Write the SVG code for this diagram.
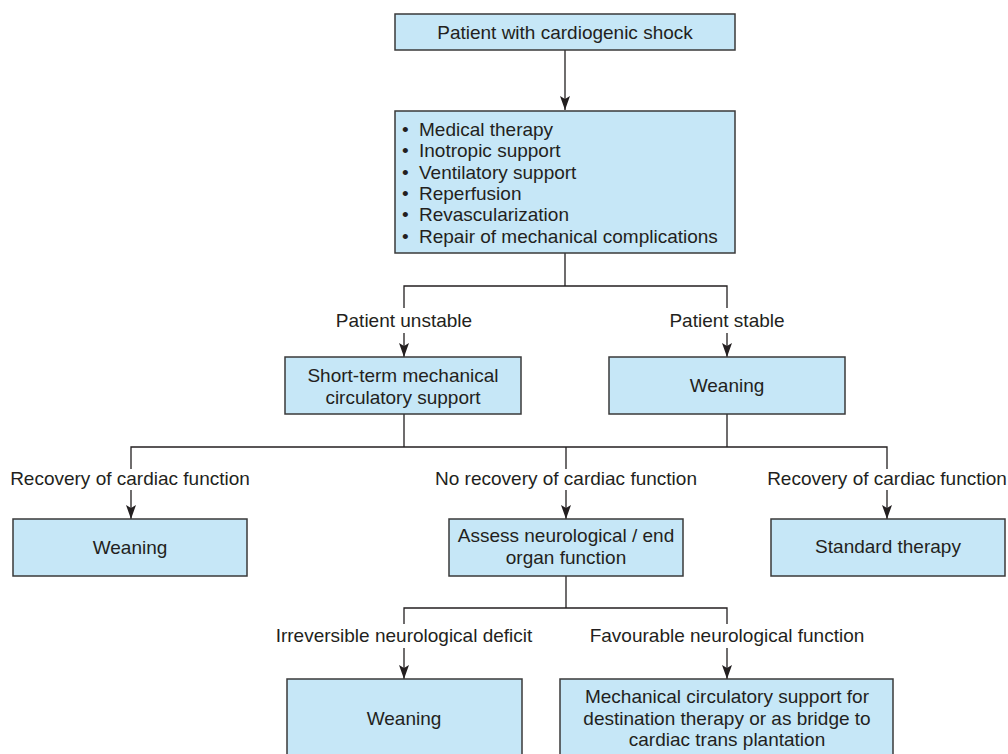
<svg xmlns="http://www.w3.org/2000/svg" width="1008" height="754" viewBox="0 0 1008 754">
<defs>
<marker id="ah" markerUnits="userSpaceOnUse" markerWidth="14" markerHeight="10" viewBox="0 0 14 10" refX="14" refY="5" orient="auto">
<path d="M0,0 L14,5 L0,10 L3,5 Z" fill="#231f20"/>
</marker>
<style>
.box{fill:#c6e7f7;stroke:#3a3a3a;stroke-width:1.5}
.t{font-family:"Liberation Sans",Arial,Helvetica,sans-serif;font-size:19px;fill:#231f20}
.c{text-anchor:middle}
.ln{fill:none;stroke:#231f20;stroke-width:1.3}
</style>
</defs>
<rect width="1008" height="754" fill="#ffffff"/>
<g id="connectors">
<path class="ln" d="M565,50 V110" marker-end="url(#ah)"/>
<path class="ln" d="M565,253 V286 M404,308 V286 H727 V308"/>
<path class="ln" d="M404,333 V357" marker-end="url(#ah)"/>
<path class="ln" d="M727,333 V357" marker-end="url(#ah)"/>
<path class="ln" d="M404,414 V447 M727,414 V447 M131,469 V447 H887 V469 M566,447 V469"/>
<path class="ln" d="M131,490 V519" marker-end="url(#ah)"/>
<path class="ln" d="M566,490 V519" marker-end="url(#ah)"/>
<path class="ln" d="M887,490 V519" marker-end="url(#ah)"/>
<path class="ln" d="M566,576 V608 M404,624 V608 H727 V624"/>
<path class="ln" d="M404,648 V679" marker-end="url(#ah)"/>
<path class="ln" d="M727,648 V679" marker-end="url(#ah)"/>
<text class="t c" x="404" y="327">Patient unstable</text>
<text class="t c" x="727" y="327">Patient stable</text>
<text class="t c" x="130" y="485">Recovery of cardiac function</text>
<text class="t c" x="566" y="485">No recovery of cardiac function</text>
<text class="t c" x="887" y="485">Recovery of cardiac function</text>
<text class="t c" x="404" y="642">Irreversible neurological deficit</text>
<text class="t c" x="727" y="642">Favourable neurological function</text>
</g>
<g id="n1">
<rect class="box" x="395" y="14" width="340" height="36"/>
<text class="t c" x="565" y="39">Patient with cardiogenic shock</text>
</g>
<g id="n2">
<rect class="box" x="395" y="111" width="340" height="142"/>
<g class="t">
<text x="402" y="136">•</text><text x="419" y="136">Medical therapy</text>
<text x="402" y="157.3">•</text><text x="419" y="157.3">Inotropic support</text>
<text x="402" y="178.6">•</text><text x="419" y="178.6">Ventilatory support</text>
<text x="402" y="199.9">•</text><text x="419" y="199.9">Reperfusion</text>
<text x="402" y="221.2">•</text><text x="419" y="221.2">Revascularization</text>
<text x="402" y="242.5">•</text><text x="419" y="242.5">Repair of mechanical complications</text>
</g>
</g>
<g id="n3">
<rect class="box" x="285" y="357" width="236" height="57"/>
<text class="t c" x="403" y="382">Short-term mechanical</text>
<text class="t c" x="403" y="403.5">circulatory support</text>
</g>
<g id="n4">
<rect class="box" x="609" y="357" width="236" height="57"/>
<text class="t c" x="727" y="392">Weaning</text>
</g>
<g id="n5">
<rect class="box" x="13" y="519" width="234" height="57"/>
<text class="t c" x="130" y="554">Weaning</text>
</g>
<g id="n6">
<rect class="box" x="449" y="519" width="234" height="57"/>
<text class="t c" x="566" y="542">Assess neurological / end</text>
<text class="t c" x="566" y="564">organ function</text>
</g>
<g id="n7">
<rect class="box" x="771" y="519" width="234" height="57"/>
<text class="t c" x="888" y="553">Standard therapy</text>
</g>
<g id="n8">
<rect class="box" x="287" y="679" width="235" height="85"/>
<text class="t c" x="404" y="725">Weaning</text>
</g>
<g id="n9">
<rect class="box" x="560" y="679" width="333" height="85"/>
<text class="t c" x="727" y="703">Mechanical circulatory support for</text>
<text class="t c" x="727" y="724.5">destination therapy or as bridge to</text>
<text class="t c" x="727" y="746">cardiac trans plantation</text>
</g>
</svg>
